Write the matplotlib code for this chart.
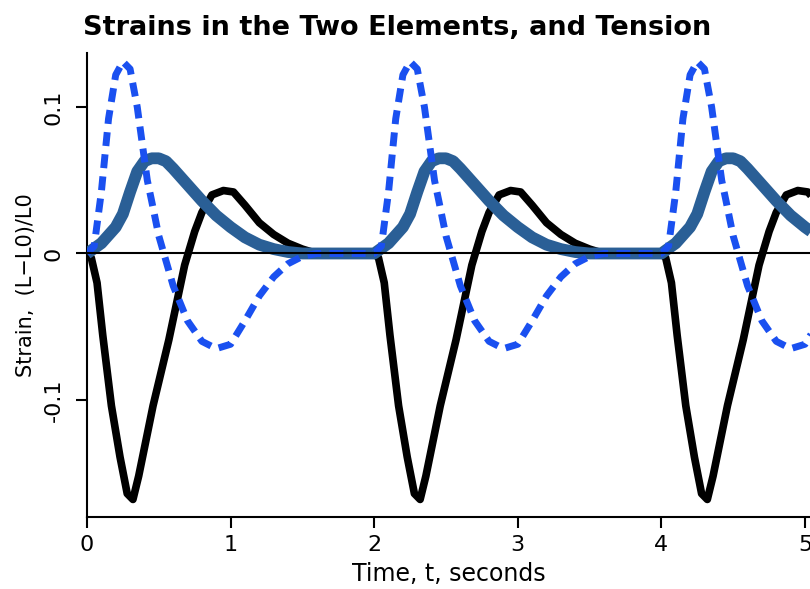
import numpy as np
import matplotlib
matplotlib.use('Agg')
import matplotlib.pyplot as plt

# one 2 s cycle of each trace; the motion repeats every 2 s
period = 2.0
n_cycles = 3

# element 1 strain (black)
t_black = [0, 0.03, 0.07, 0.11, 0.17, 0.23, 0.28, 0.32, 0.36, 0.46, 0.57,
           0.68, 0.75, 0.8, 0.87, 0.95, 1.02, 1.1, 1.2, 1.3, 1.4, 1.5, 1.6,
           2.0]
v_black = [0, -0.003, -0.02, -0.056, -0.104, -0.139, -0.164, -0.168, -0.152,
           -0.104, -0.059, -0.008, 0.015, 0.028, 0.040, 0.043, 0.042, 0.033,
           0.021, 0.013, 0.007, 0.003, 0, 0]

# element 2 strain (blue dashed)
t_dash = [0, 0.05, 0.1, 0.15, 0.2, 0.25, 0.3, 0.35, 0.42, 0.45, 0.5, 0.6, 0.7,
          0.8, 0.9, 1.0, 1.1, 1.2, 1.3, 1.4, 1.5, 1.6, 2.0]
v_dash = [0, 0.005, 0.042, 0.092, 0.122, 0.131, 0.126, 0.1, 0.05, 0.036,
          0.012, -0.022, -0.046, -0.06, -0.065, -0.062, -0.046, -0.029,
          -0.016, -0.007, -0.002, 0, 0]

# tension (thick steel blue)
t_tens = [0, 0.1, 0.2, 0.25, 0.3, 0.35, 0.4, 0.45, 0.5, 0.55, 0.6, 0.7, 0.8,
          0.9, 1.0, 1.1, 1.2, 1.3, 1.4, 1.5, 2.0]
v_tens = [0, 0.007, 0.018, 0.027, 0.042, 0.056, 0.063, 0.065, 0.065, 0.063,
          0.058, 0.047, 0.036, 0.026, 0.018, 0.011, 0.006, 0.003, 0.001, 0, 0]


def repeat(t, v):
    tt = np.concatenate([np.array(t) + k * period for k in range(n_cycles)])
    vv = np.concatenate([v] * n_cycles)
    return tt, vv


fig = plt.figure(figsize=(8.1, 5.89), dpi=100)
ax = fig.add_axes([0.1074, 0.1222, 0.8926, 0.788])

tb, vb = repeat(t_black, v_black)
ax.plot(tb, vb, color='black', lw=5.5, solid_capstyle='butt', zorder=2)

tt, vt = repeat(t_tens, v_tens)
ax.plot(tt, vt, color='#2a5f96', lw=8.5, solid_capstyle='butt', zorder=3)

td, vd = repeat(t_dash, v_dash)
ax.plot(td, vd, color='#1a50f0', lw=5, linestyle=(0, (2.0, 1.2)),
        dash_capstyle='butt', zorder=4)

ax.axhline(0, color='black', lw=1.5, zorder=5)

ax.set_xlim(0, 5.035)
ax.set_ylim(-0.18, 0.137)

ax.set_xticks([0, 1, 2, 3, 4, 5])
ax.set_yticks([-0.1, 0, 0.1])
ax.set_yticklabels(['-0.1', '0', '0.1'], rotation=90, va='center')

ax.spines['top'].set_visible(False)
ax.spines['right'].set_visible(False)
ax.spines['left'].set_linewidth(1.5)
ax.spines['bottom'].set_linewidth(1.5)
ax.tick_params(direction='out', length=8, width=1.5, labelsize=16)
ax.tick_params(axis='x', pad=5)
ax.tick_params(axis='y', pad=9)

ax.set_xlabel('Time, t, seconds', fontsize=17, labelpad=5)
ax.set_ylabel('Strain,  (L\u2212L0)/L0', fontsize=15, labelpad=5)
fig.text(0.102, 0.953, 'Strains in the Two Elements, and Tension',
         fontsize=19.5, fontweight='bold', va='center', ha='left')

fig.savefig('out.png', dpi=100)
